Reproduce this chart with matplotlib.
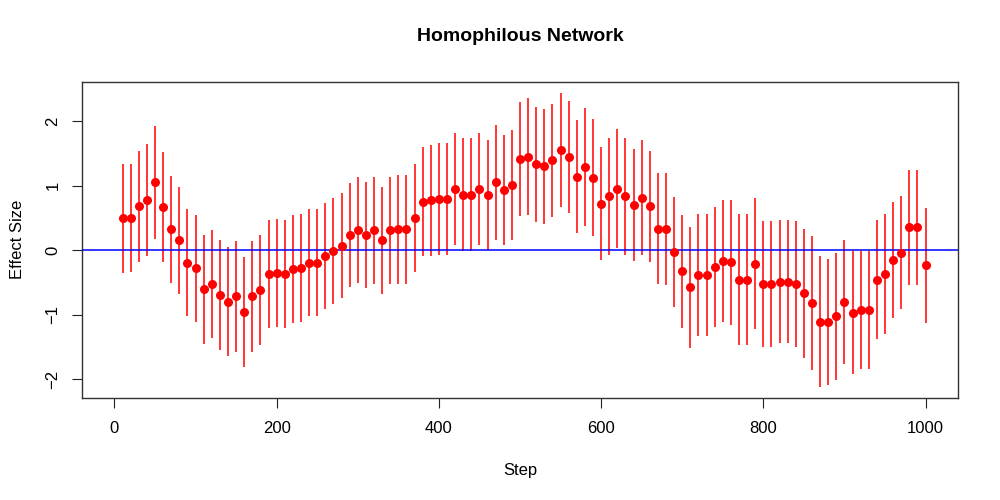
import matplotlib

matplotlib.use("Agg")
import matplotlib.pyplot as plt
import numpy as np

plt.rcParams["font.family"] = ["Liberation Sans", "DejaVu Sans"]

# steps 10..1000 every 10
steps = np.arange(10, 1001, 10)

effect = [
    0.49, 0.50, 0.68, 0.78, 1.05, 0.67, 0.32, 0.15, -0.20, -0.28,
    -0.61, -0.53, -0.70, -0.80, -0.72, -0.96, -0.72, -0.62, -0.37, -0.36,
    -0.37, -0.29, -0.28, -0.20, -0.20, -0.09, -0.02, 0.07, 0.23, 0.31,
    0.23, 0.31, 0.15, 0.31, 0.32, 0.32, 0.50, 0.75, 0.77, 0.79,
    0.79, 0.95, 0.86, 0.86, 0.95, 0.85, 1.05, 0.93, 1.01, 1.41,
    1.45, 1.33, 1.30, 1.39, 1.55, 1.44, 1.14, 1.29, 1.12, 0.72,
    0.83, 0.95, 0.83, 0.70, 0.81, 0.68, 0.33, 0.33, -0.03, -0.33,
    -0.58, -0.39, -0.39, -0.27, -0.17, -0.19, -0.46, -0.46, -0.21, -0.53,
    -0.53, -0.49, -0.49, -0.53, -0.67, -0.82, -1.11, -1.12, -1.03, -0.80,
    -0.97, -0.93, -0.93, -0.46, -0.37, -0.15, -0.04, 0.35, 0.35, -0.24,
]

# half width of each interval
half_width = [
    0.84, 0.84, 0.86, 0.87, 0.88, 0.85, 0.83, 0.83, 0.83, 0.83,
    0.84, 0.84, 0.85, 0.85, 0.86, 0.85, 0.86, 0.85, 0.84, 0.84,
    0.84, 0.84, 0.84, 0.83, 0.83, 0.82, 0.82, 0.82, 0.81, 0.82,
    0.82, 0.83, 0.83, 0.83, 0.84, 0.84, 0.84, 0.84, 0.86, 0.87,
    0.87, 0.87, 0.87, 0.87, 0.87, 0.85, 0.89, 0.85, 0.85, 0.89,
    0.91, 0.89, 0.89, 0.88, 0.89, 0.87, 0.88, 0.91, 0.91, 0.88,
    0.90, 0.92, 0.90, 0.87, 0.89, 0.86, 0.86, 0.87, 0.85, 0.88,
    0.94, 0.95, 0.95, 0.93, 0.95, 0.97, 1.02, 1.02, 1.01, 0.98,
    0.98, 0.95, 0.95, 0.98, 1.00, 1.04, 1.01, 0.98, 0.98, 0.96,
    0.95, 0.92, 0.92, 0.92, 0.93, 0.90, 0.87, 0.89, 0.89, 0.89,
]

fig = plt.figure(figsize=(10, 5), dpi=100)
ax = fig.add_axes([0.082, 0.2046, 0.876, 0.632])

lower = np.array(effect) - np.array(half_width)
upper = np.array(effect) + np.array(half_width)
ax.vlines(steps, lower, upper, colors="#FF0000", linewidth=1.1, zorder=2)
ax.axhline(0, color="#0000FF", linewidth=1.1, zorder=3)
ax.plot(steps, effect, "o", color="#FF0000", markersize=6.5, markeredgewidth=0, zorder=4)

ax.set_xlim(-40, 1040)
ax.set_ylim(-2.29, 2.61)
ax.set_xticks([0, 200, 400, 600, 800, 1000])
ax.set_yticks([-2, -1, 0, 1, 2])
ax.set_yticklabels(["\u22122", "\u22121", "0", "1", "2"], rotation=90, va="center")
ax.tick_params(axis="both", labelsize=12, length=7.5, width=0.8, color="#222222")
ax.tick_params(axis="x", pad=9)
ax.tick_params(axis="y", pad=8)
for sp in ax.spines.values():
    sp.set_color("#333333")
    sp.set_linewidth(1.0)

ax.set_xlabel("Step", fontsize=12, labelpad=20)
ax.set_ylabel("Effect Size", fontsize=12, labelpad=15)
ax.set_title("Homophilous Network", fontsize=14, fontweight="bold", pad=29)

fig.savefig("out.png", dpi=100)
